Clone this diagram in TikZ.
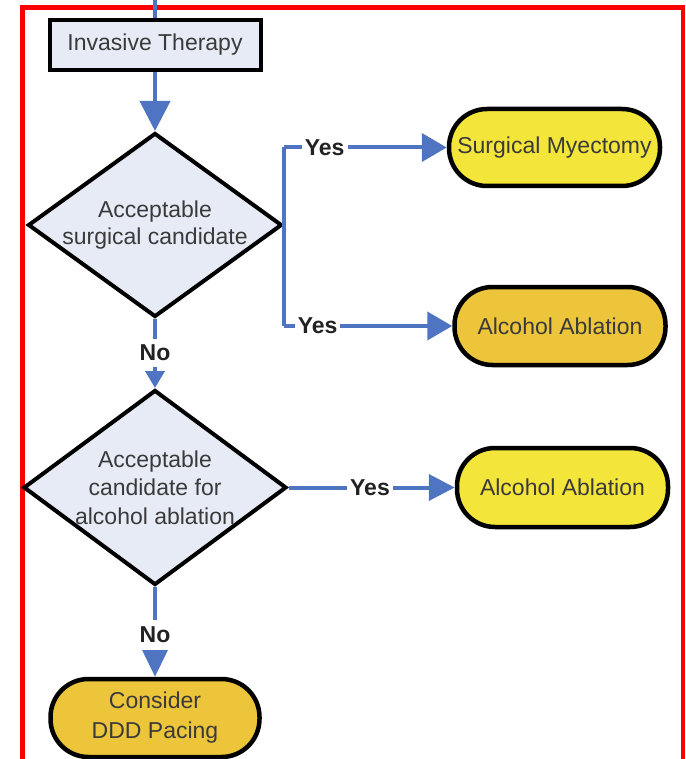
\documentclass[tikz,border=0pt]{standalone}
\usepackage{fontspec}
\setmainfont{Liberation Sans}
\usetikzlibrary{shapes.geometric,arrows.meta}
\definecolor{flowblue}{HTML}{4F74C2}
\definecolor{boxfill}{HTML}{E6EBF6}
\definecolor{termyellow}{HTML}{F4E53A}
\definecolor{termorange}{HTML}{ECC53A}
\definecolor{textgray}{HTML}{3A3A3A}
\definecolor{labgray}{HTML}{222222}
\definecolor{frame}{HTML}{FF0000}
\begin{document}
\begin{tikzpicture}[x=1pt,y=-1pt,
  txt/.style={font=\fontsize{23}{27}\selectfont, text=textgray},
  procbox/.style={draw=black, line width=4pt, fill=boxfill, minimum width=211pt, minimum height=50pt, inner sep=0pt, txt},
  decision/.style={diamond, draw=black, line width=4pt, fill=boxfill, inner sep=0pt, align=center, txt},
  term/.style={draw=black, line width=4.5pt, rounded corners=38pt, minimum width=211pt, minimum height=77pt, inner sep=0pt, align=center, txt},
  conn/.style={draw=flowblue, line width=4pt},
  lab/.style={fill=white, inner sep=3pt, font=\bfseries\fontsize{23}{26}\selectfont, text=labgray},
]
\useasboundingbox (0,0) rectangle (685,759);
\draw[frame, line width=4.5pt] (22.5,800) -- (22.5,7.5) -- (683,7.5) -- (683,800);

\node[procbox] (it) at (155,45) {Invasive Therapy};
\node[decision, shape aspect=1.38, minimum width=254pt, minimum height=184pt] (d1) at (155,225) {Acceptable\\surgical candidate};
\node[decision, shape aspect=1.36, minimum width=263pt, minimum height=195pt, font=\fontsize{23}{28.5}\selectfont] (d2) at (155,487.5) {Acceptable\\candidate for\\alcohol ablation};
\node[term, fill=termyellow] (sm) at (554.5,147.5) {Surgical Myectomy};
\node[term, fill=termorange, minimum height=78pt] (aa1) at (560,326) {Alcohol Ablation};
\node[term, fill=termyellow, minimum height=79pt] (aa2) at (562.5,487.5) {Alcohol Ablation};
\node[term, fill=termorange, minimum width=209pt, minimum height=78pt, font=\fontsize{23}{30}\selectfont] (ddd) at (155,718) {Consider\\DDD Pacing};

\coordinate (topin) at (155,-5);
\draw[conn] (topin) -- (it.north);
\draw[conn, -{Triangle[length=30pt,width=30pt]}] (it.south) -- (d1.north);

\draw[conn] (sm.west -| d1.east) -- (aa1.west -| d1.east);
\draw[conn, -{Triangle[length=25pt,width=28pt]}] (sm.west -| d1.east) -- node[lab, pos=0.25] {Yes} (sm.west);
\draw[conn, -{Triangle[length=25pt,width=28pt]}] (aa1.west -| d1.east) -- node[lab, pos=0.2] {Yes} (aa1.west);

\draw[conn, -{Triangle[length=17pt,width=19pt]}] (d1.south) -- node[lab, pos=0.49, inner ysep=6pt] {No} (d2.north);
\draw[conn, -{Triangle[length=26pt,width=26pt]}] (d2.east) -- node[lab, pos=0.49] {Yes} (aa2.west);
\draw[conn, -{Triangle[length=27pt,width=25pt]}] (d2.south) -- node[lab, pos=0.53, inner ysep=7pt] {No} (ddd.north);
\end{tikzpicture}
\end{document}
